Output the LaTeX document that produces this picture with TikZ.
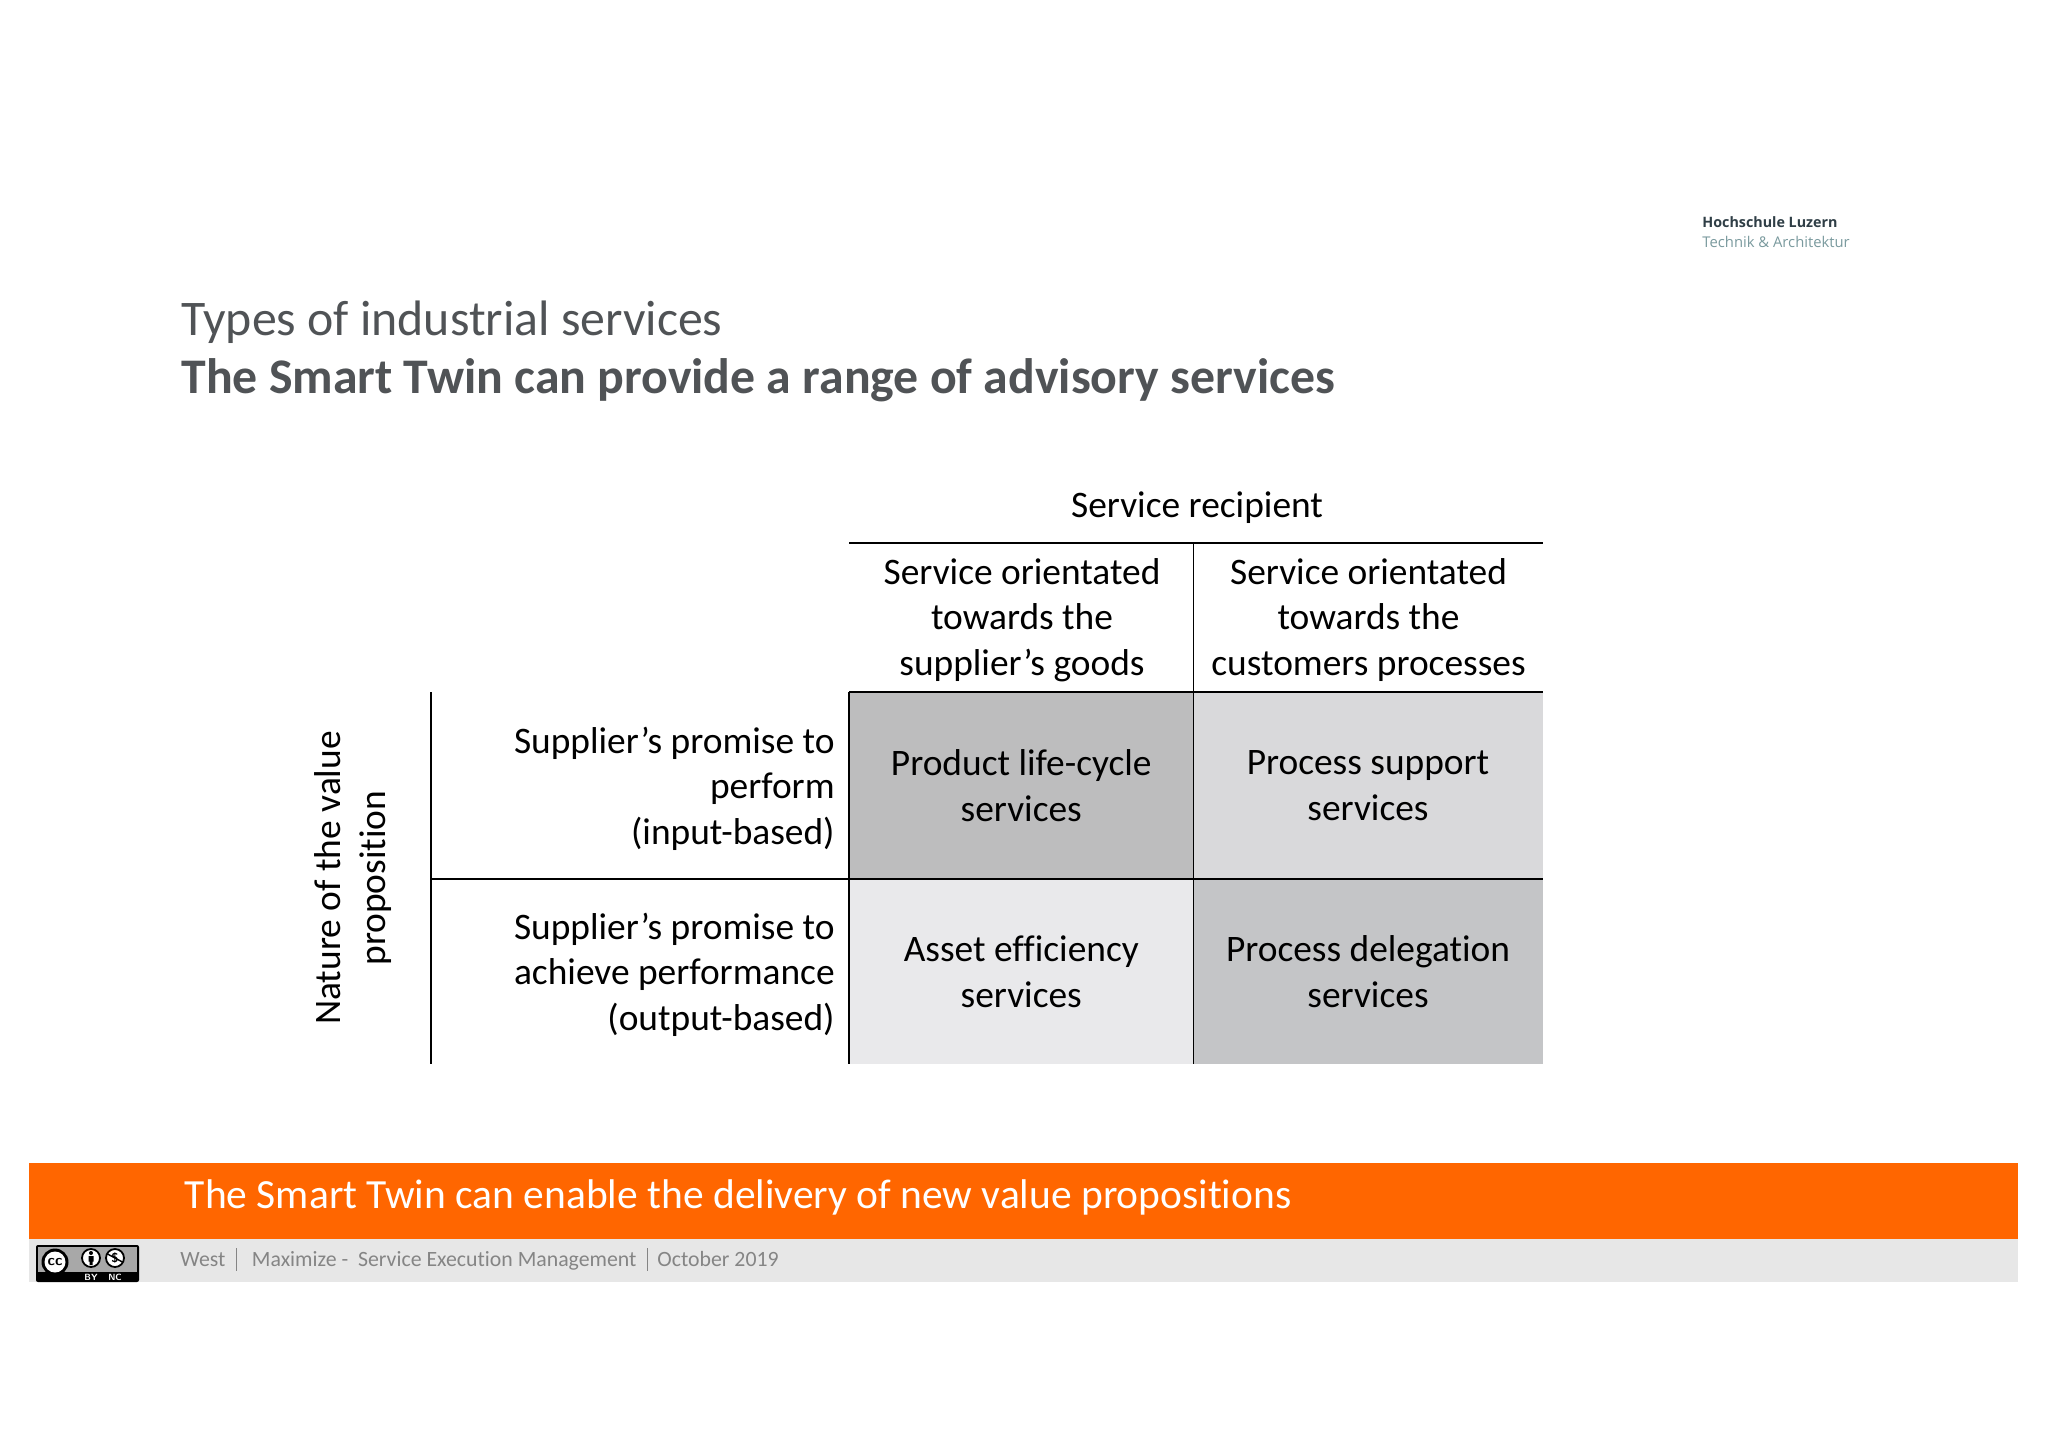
\documentclass[tikz,border=0pt]{standalone}
\usepackage{fontspec}
\setmainfont[Ligatures=NoCommon]{Carlito}
\newfontfamily\logofont{Open Sans}
\definecolor{titlegrey}{HTML}{505356}
\definecolor{bandorange}{HTML}{FF6600}
\definecolor{footgrey}{HTML}{E7E7E7}
\definecolor{foottext}{HTML}{858585}
\definecolor{logodark}{HTML}{2F3E46}
\definecolor{logoteal}{HTML}{7A9A9E}
\definecolor{cellA}{HTML}{BDBDBE}
\definecolor{cellB}{HTML}{D9D9DB}
\definecolor{cellC}{HTML}{E9E9EB}
\definecolor{cellD}{HTML}{C4C5C7}
\tikzset{
  cell/.style={inner sep=0pt, outer sep=0pt, align=center, font=\fontsize{18.7}{22.8}\selectfont},
  label text/.style={inner sep=0pt, align=center, font=\fontsize{18.7}{22.8}\selectfont},
  row label/.style={inner sep=0pt, align=right, anchor=east, font=\fontsize{18.7}{22.8}\selectfont},
  title line/.style={inner sep=0pt, anchor=west, text=titlegrey, font=\fontsize{24.9}{30}\selectfont},
  foot text/.style={inner sep=0pt, anchor=base west, text=foottext, font=\fontsize{10.9}{14}\selectfont},
  foot rule/.style={foottext, line width=0.4pt},
  grid line/.style={black, line width=0.9pt}
}
\begin{document}
\begin{tikzpicture}[x=0.5pt, y=-0.5pt, line cap=butt, line join=round]
	\useasboundingbox (0,0) rectangle (2048,1447);
	\fill[white] (0,0) rectangle (2048,1447);
	% logo
	\node[inner sep=0pt, anchor=west, text=logodark, font=\logofont\bfseries\fontsize{7.15}{9}\selectfont] (school) at (1702,222) {Hochschule Luzern};
	\node[inner sep=0pt, anchor=west, text=logoteal, font=\logofont\fontsize{7.4}{9}\selectfont] (dept) at (1702,241.5) {Technik \& Architektur};
	% title
	\node[title line] (title) at (181,322.6) {Types of industrial services};
	\node[title line, font=\bfseries\fontsize{24.9}{30}\selectfont] (subtitle) at (181,380.6) {The Smart Twin can provide a range of advisory services};
	% matrix
	\node[cell, fill=cellA, minimum width=172.25pt, minimum height=93.3pt] (life) at (1021.25,785.6) {Product life-cycle\\services};
	\node[cell, fill=cellB, minimum width=174.5pt, minimum height=93.3pt] (support) at (1368,785.6) {Process support\\services};
	\node[cell, fill=cellC, minimum width=172.25pt, minimum height=92.7pt] (asset) at (1021.25,971.6) {Asset efficiency\\services};
	\node[cell, fill=cellD, minimum width=174.5pt, minimum height=92.7pt] (delegation) at (1368,971.6) {Process delegation\\services};
	\node[label text] (recipient) at (1197,507.6) {Service recipient};
	\node[label text] (goods) at (1022,620) {Service orientated\\towards the\\supplier’s goods};
	\node[label text] (processes) at (1368.5,620) {Service orientated\\towards the\\customers processes};
	\node[row label] (perform) at (835,788.5) {Supplier’s promise to\\perform\\(input-based)};
	\node[row label] (achieve) at (835,974.5) {Supplier’s promise to\\achieve performance\\(output-based)};
	\node[label text, rotate=90] (nature) at (353,878) {Nature of the value\\proposition};
	\coordinate (tl) at (849,543.3);
	\coordinate (tm) at (1193.5,692.3);
	\coordinate (tr) at (1542.5,543.3);
	\coordinate (ltop) at (431,692.3);
	\coordinate (lmid) at (431,878.9);
	\coordinate (lbot) at (431,1064.3);
	\draw[grid line] (tl) -- (tr);
	\draw[grid line] (life.north west) -- (support.north east);
	\draw[grid line] (lmid) -- (support.south east);
	\draw[grid line] (ltop) -- (lbot);
	\draw[grid line] (tl |- life.north) -- (asset.south west);
	\draw[grid line] (tm |- tl) -- (asset.south east);
	% bottom band
	\fill[bandorange] (29,1163.3) rectangle (2018,1239.3);
	\fill[footgrey] (29,1239.3) rectangle (2018,1282.3);
	\node[inner sep=0pt, anchor=west, text=white, font=\fontsize{20.75}{25}\selectfont] (message) at (184.5,1197.6) {The Smart Twin can enable the delivery of new value propositions};
	\node[foot text] (author) at (180,1266) {West};
	\node[foot text] (topic) at (251.5,1266) {Maximize -\ \ Service Execution Management};
	\node[foot text] (date) at (657,1266) {October 2019};
	\draw[foot rule] (236,1248) -- (236,1271);
	\draw[foot rule] (647,1248) -- (647,1271);
	% licence badge
	\fill[black, rounded corners=1pt] (36,1245) rectangle (139,1282);
	\fill[black!34] (38,1247) rectangle (137,1272);
	\fill[black] (55,1262) circle (13.5);
	\fill[white] (55,1262) circle (10.5);
	\node[inner sep=0pt, font=\sffamily\bfseries\fontsize{7.5}{8}\selectfont] (ccmark) at (55,1261.5) {cc};
	\draw[black, fill=white, line width=0.9pt] (91,1258) circle (9);
	\fill[black] (91,1253) circle (2);
	\fill[black] (88.5,1256) rectangle (93.5,1261.5) (89.5,1261.5) rectangle (92.5,1265);
	\draw[black, fill=white, line width=0.9pt] (115,1258) circle (9);
	\node[inner sep=0pt, font=\sffamily\bfseries\fontsize{6.5}{7}\selectfont] (ncmark) at (115,1258) {\$};
	\draw[black, line width=0.7pt] (107.5,1254) -- (122.5,1262);
	\node[inner sep=0pt, text=white, font=\sffamily\bfseries\fontsize{4.5}{5}\selectfont] (bymark) at (91,1277) {BY};
	\node[inner sep=0pt, text=white, font=\sffamily\bfseries\fontsize{4.5}{5}\selectfont] (ncname) at (115,1277) {NC};
\end{tikzpicture}
\end{document}
